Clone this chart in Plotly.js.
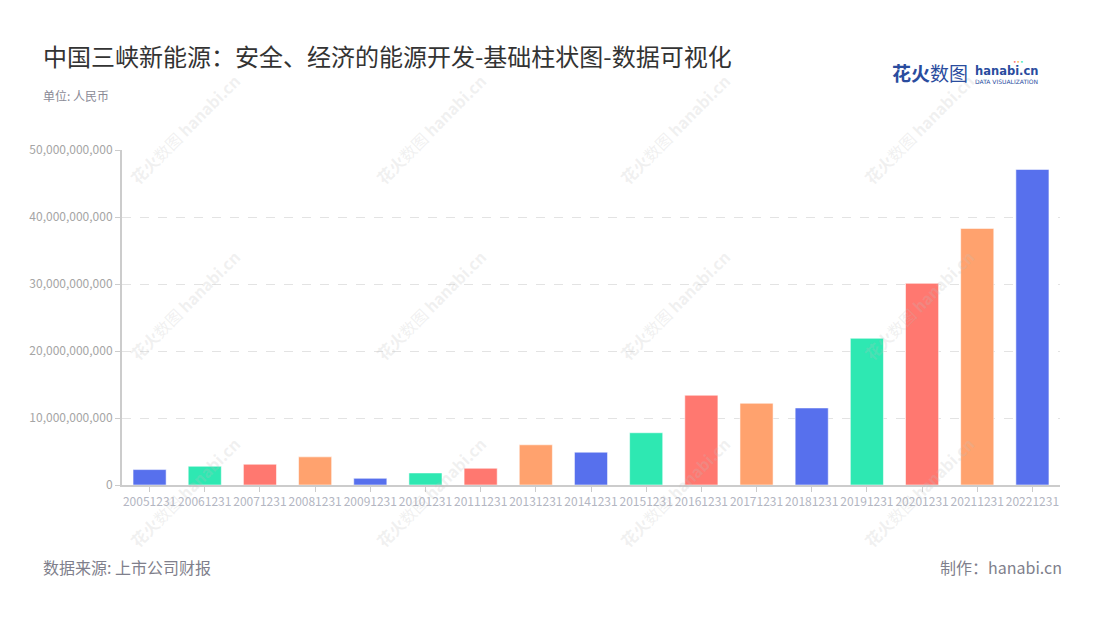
<!DOCTYPE html>
<html>
<head>
<meta charset="utf-8">
<script src="https://cdn.plot.ly/plotly-3.0.1.min.js"></script>
<style>
html,body{margin:0;padding:0;background:#fff;}
#chart{width:1100px;height:620px;}
</style>
</head>
<body>
<div id="chart"></div>
<script>
// ---- data ----
const categories = ["20051231","20061231","20071231","20081231","20091231","20101231","20111231","20131231","20141231","20151231","20161231","20171231","20181231","20191231","20201231","20211231","20221231"];
const values = [2300000000, 2800000000, 3100000000, 4200000000, 1000000000, 1800000000, 2500000000, 6000000000, 4900000000, 7800000000, 13400000000, 12200000000, 11500000000, 21900000000, 30100000000, 38300000000, 47100000000];
const palette = ["#5770ED", "#2EE8B2", "#FF7870", "#FFA26E"];
const titleText = "中国三峡新能源：安全、经济的能源开发-基础柱状图-数据可视化";
const subtitleText = "单位: 人民币";
const sourceText = "数据来源: 上市公司财报";
const makerText = "制作：hanabi.cn";

// ---- layout helpers (pixel -> paper) ----
const W = 1100, H = 620, L = 122, R = 40, T = 150, B = 135;
const PW = W - L - R, PH = H - T - B;
const px = x => (x - L) / PW;
const py = y => (H - B - y) / PH;

const barColors = values.map((v, i) => palette[i % palette.length]);
const FONT = "'Noto Sans CJK SC', 'Noto Sans', sans-serif";

const trace = {
  type: "bar",
  x: categories,
  y: values,
  marker: { color: barColors, line: { color: "rgba(255,255,255,0.55)", width: 1 } },
  hoverinfo: "x+y"
};

const annotations = [];
// watermarks
const wmX = [185, 431, 675, 919];
const wmY = [129, 305, 492];
wmY.forEach(yy => wmX.forEach(xx => {
  annotations.push({
    xref: "paper", yref: "paper", x: px(xx), y: py(yy),
    xanchor: "center", yanchor: "middle", showarrow: false, textangle: -45,
    text: "<b>花火</b>数图 <b>hanabi.cn</b>",
    font: { family: FONT, size: 16, color: "rgba(190,190,190,0.22)" }
  });
}));
// title & subtitle
annotations.push({ xref: "paper", yref: "paper", x: px(41), y: py(55), xanchor: "left", yanchor: "middle", showarrow: false,
  text: titleText, font: { family: FONT, size: 24, color: "#333333" } });
annotations.push({ xref: "paper", yref: "paper", x: px(41), y: py(96), xanchor: "left", yanchor: "middle", showarrow: false,
  text: subtitleText, font: { family: FONT, size: 12, color: "#8a8a96" } });
// footer
annotations.push({ xref: "paper", yref: "paper", x: px(41), y: py(567), xanchor: "left", yanchor: "middle", showarrow: false,
  text: sourceText, font: { family: FONT, size: 16, color: "#7f7f8c" } });
annotations.push({ xref: "paper", yref: "paper", x: px(1064), y: py(567), xanchor: "right", yanchor: "middle", showarrow: false,
  text: makerText, font: { family: FONT, size: 16, color: "#7f7f8c" } });
// logo
annotations.push({ xref: "paper", yref: "paper", x: px(890), y: py(73), xanchor: "left", yanchor: "middle", showarrow: false,
  text: "<b>花火</b>数图", font: { family: FONT, size: 19, color: "#2A4C9E" } });
annotations.push({ xref: "paper", yref: "paper", x: px(973), y: py(71), xanchor: "left", yanchor: "middle", showarrow: false,
  text: "<b>hanabi.cn</b>", font: { family: "'DejaVu Sans', sans-serif", size: 11.5, color: "#2A4C9E" } });
annotations.push({ xref: "paper", yref: "paper", x: px(1006), y: py(81), xanchor: "center", yanchor: "middle", showarrow: false,
  text: "DATA VISUALIZATION", font: { family: "'DejaVu Sans', sans-serif", size: 6, color: "#2A4C9E" } });
annotations.push({ xref: "paper", yref: "paper", x: px(1018), y: py(62), xanchor: "center", yanchor: "middle", showarrow: false,
  text: "<span style='color:#ff6b6b'>•</span><span style='color:#ffb347'>•</span><span style='color:#2ee8b2'>•</span>",
  font: { family: "'DejaVu Sans', sans-serif", size: 6, color: "#5770ED" } });

const layout = {
  width: W, height: H,
  margin: { l: L, r: R, t: T, b: B, pad: 0 },
  paper_bgcolor: "#ffffff", plot_bgcolor: "#ffffff",
  showlegend: false,
  bargap: 0.4,
  font: { family: FONT },
  xaxis: {
    type: "category",
    showline: true, linecolor: "#cccccc", linewidth: 2,
    ticks: "outside", ticklen: 5, tickcolor: "#cccccc", tickwidth: 1,
    tickfont: { family: FONT, size: 12, color: "#b3b6c2" },
    tickangle: 0,
    showgrid: false, zeroline: false, fixedrange: true
  },
  yaxis: {
    range: [0, 50000000000],
    tickvals: [0, 10000000000, 20000000000, 30000000000, 40000000000, 50000000000],
    tickformat: ",d",
    showline: true, linecolor: "#cccccc", linewidth: 2,
    ticks: "outside", ticklen: 5, tickcolor: "#cccccc", tickwidth: 1,
    tickfont: { family: FONT, size: 12, color: "#a5a5a5" },
    showgrid: true, gridcolor: "#e3e3e3", griddash: "dash", gridwidth: 1,
    zeroline: false, fixedrange: true
  },
  annotations: annotations
};

Plotly.newPlot("chart", [trace], layout, { displayModeBar: false, staticPlot: true });
</script>
</body>
</html>
